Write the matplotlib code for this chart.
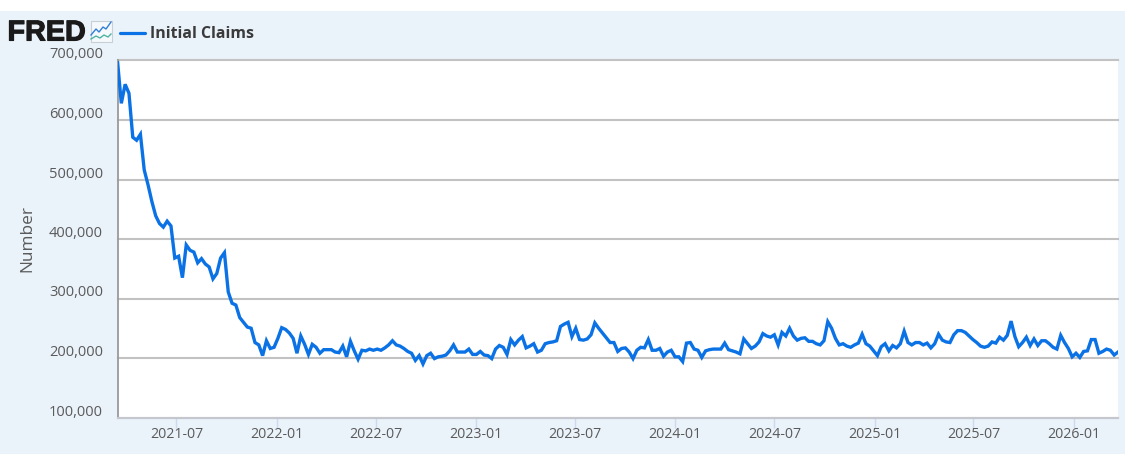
import matplotlib
matplotlib.use("Agg")
import matplotlib.pyplot as plt
import matplotlib.dates as mdates
import matplotlib.transforms as mtrans
import matplotlib.patheffects as pe
from matplotlib.patches import Rectangle
from matplotlib.lines import Line2D
from matplotlib.ticker import FuncFormatter
import pandas as pd

W, H = 1125, 454
series_name = "Initial Claims"
y_title = "Number"
start_date = "2021-03-15"
claims_k = [
 699,628,660,645,571,566,576,516,491,463,439,426,420,430,422,368,371,335,390,381,
 378,360,367,358,353,333,342,368,377,311,292,289,268,260,252,250,226,222,204,229,
 216,218,233,251,248,242,233,208,237,223,206,223,218,208,214,214,214,210,209,220,
 202,228,212,198,213,212,215,213,215,213,217,222,229,222,220,216,211,208,196,204,
 190,204,208,199,202,203,205,212,222,210,210,210,215,206,206,211,205,204,199,215,
 221,218,206,231,222,230,236,217,220,224,210,213,224,226,227,229,253,257,260,236,
 250,231,230,232,239,259,250,242,234,226,226,211,216,217,210,199,213,218,217,231,
 213,213,216,203,210,213,202,202,194,225,226,215,213,201,212,214,215,215,215,225,
 214,212,210,207,232,224,216,220,227,241,237,235,239,222,243,237,250,237,230,233,
 234,228,228,224,222,229,261,250,233,222,224,220,218,222,225,240,224,220,212,
 204,219,224,212,221,217,224,245,226,222,226,226,222,225,217,224,240,230,227,226,
 239,246,246,243,237,231,226,220,218,220,227,225,235,230,238,262,236,219,226,235,
 221,232,221,229,229,224,218,215,238,226,216,202,208,201,211,212,231,231,208,211,
 215,213,205,210,
]
y_ticks_k = [100, 200, 300, 400, 500, 600, 700]
x_tick_dates = ["2021-07-01","2022-01-01","2022-07-01","2023-01-01","2023-07-01",
                "2024-01-01","2024-07-01","2025-01-01","2025-07-01","2026-01-01"]

dates = pd.date_range(start_date, periods=len(claims_k), freq="7D")
values = [v * 1000 for v in claims_k]

plt.rcParams["font.family"] = ["Open Sans", "Noto Sans", "DejaVu Sans"]
BG = "#EAF2FA"
fig = plt.figure(figsize=(W / 100, H / 100), dpi=100, facecolor="white")
fig.add_artist(Rectangle((0, 0), 1, 1 - 11 / H, transform=fig.transFigure,
                         facecolor=BG, edgecolor="none", zorder=-5))

L, R, T, B = 117.5, 1118, 60.5, 417.5
ax = fig.add_axes([L / W, 1 - B / H, (R - L) / W, (B - T) / H], facecolor="white")
ax.plot(dates, values, color="#0B72E6", lw=2.4, solid_joinstyle="miter", clip_on=True, zorder=3)
ax.set_xlim(dates[0], dates[-1])
ax.set_ylim(100000, 700000)

ax.set_yticks([v * 1000 for v in y_ticks_k])
ax.yaxis.set_major_formatter(FuncFormatter(lambda v, p: f"{int(v):,}"))
ax.grid(axis="y", color="#C2C2C2", lw=1.5, zorder=1)
for gl in ax.get_ygridlines():
    gl.set_clip_on(False)
ax.set_axisbelow(True)
ax.tick_params(axis="y", length=0, pad=10.5, labelsize=10.5, labelcolor="#5A5A5A")
offset = mtrans.ScaledTranslation(0, 7.5 / 100, fig.dpi_scale_trans)
for lab in ax.get_yticklabels():
    lab.set_transform(lab.get_transform() + offset)

ax.set_xticks(mdates.date2num(pd.to_datetime(x_tick_dates)))
ax.xaxis.set_major_formatter(mdates.DateFormatter("%Y-%m"))
ax.tick_params(axis="x", length=7.5, width=1, color="#CCD9EE", pad=-0.4, labelsize=10.2, labelcolor="#5A5A5A")

for s in ["top", "right"]:
    ax.spines[s].set_visible(False)
ax.spines["left"].set_color("#9A9A9A")
ax.spines["left"].set_linewidth(1.3)
ax.spines["bottom"].set_color("#C4C7CE")
ax.spines["bottom"].set_linewidth(1.5)

fig.text(27 / W, 1 - 238.5 / H, y_title, rotation=90, ha="center", va="center",
         fontsize=12.4, color="#5A5A5A")

# Header: logo, icon, legend
fig.text(7.5 / W, 1 - 32.5 / H, "FRED", ha="left", va="center", fontsize=20.7, fontweight="bold",
         family=["Liberation Sans", "DejaVu Sans"], color="#1A1A1A",
         path_effects=[pe.withStroke(linewidth=0.8, foreground="#1A1A1A")])
fig.add_artist(Rectangle((90.5 / W, 1 - 42 / H), 21 / W, 21 / H, transform=fig.transFigure,
                         facecolor="#F6F9FC", edgecolor="#C9CFD6", lw=0.8))
def px_line(xs, ys, **kw):
    fig.add_artist(Line2D([x / W for x in xs], [1 - y / H for y in ys],
                          transform=fig.transFigure, **kw))
px_line([91, 96, 99, 103, 106, 111], [35, 29, 32, 27, 29, 22], color="#2F7FD8", lw=1)
px_line([91, 96, 100, 104, 108, 111], [39, 36, 38, 35, 37, 34], color="#4FB3A1", lw=1)
px_line([120, 145], [33, 33], color="#0B72E6", lw=2.3, solid_capstyle="round")
fig.text(150 / W, 1 - 33.5 / H, series_name, ha="left", va="center", fontsize=11.45,
         fontweight="bold", color="#3A3A3A")

fig.savefig("out.png", dpi=100, facecolor=fig.get_facecolor())
